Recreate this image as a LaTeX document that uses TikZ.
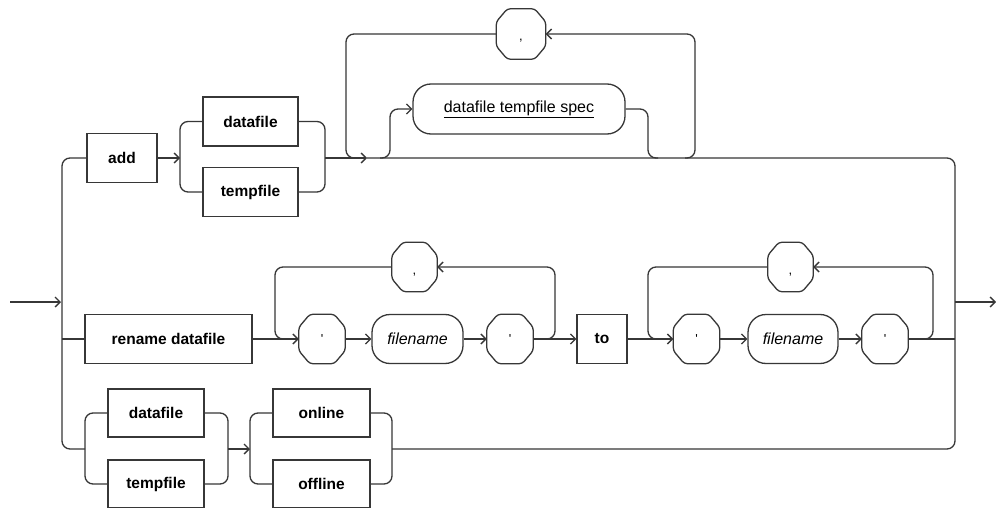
\documentclass[tikz,border=0pt]{standalone}
\usepackage{fontspec}
\setmainfont{Liberation Sans}
\usetikzlibrary{arrows.meta,calc}
\definecolor{ink}{RGB}{55,55,55}
\newcommand{\lowcomma}{\smash{\raisebox{-7pt}{,}}}
\begin{document}
\begin{tikzpicture}[x=1pt,y=-1pt,
  rail/.style={draw=ink,line width=1.3pt,rounded corners=8pt},
  arr/.style={-{Straight Barb[length=5pt,width=10pt,line width=1.3pt]}},
  kw/.style={draw=ink,line width=1.3pt,rectangle,minimum height=49pt,inner sep=0pt,
    font=\fontsize{15.5}{18}\selectfont\bfseries},
  nt/.style={draw=ink,line width=1.3pt,rounded corners=18pt,minimum height=50pt,inner sep=0pt,
    font=\fontsize{16}{18}\selectfont},
  sym/.style={minimum width=46pt,minimum height=49pt,inner sep=0pt,
    font=\fontsize{13}{15}\selectfont},
]
\useasboundingbox (0,0) rectangle (996,508);
\fill[white] (0,0) rectangle (996,508);

% ---- add {datafile|tempfile} [spec] [, ...]
\node[kw,minimum width=70pt] (add) at (122,158) {add};
\node[kw,minimum width=95pt] (dat1) at (250.5,121.5) {datafile};
\node[kw,minimum width=95pt] (tmp1) at (250.5,192) {tempfile};
\node[nt,minimum width=212pt] (spec) at (519,109) {\underline{datafile tempfile spec}};
\node[sym,minimum width=49pt,minimum height=50pt] (c0) at (521,34) {\lowcomma};

% ---- rename datafile 'filename' [, ...] to 'filename' [, ...]
\node[kw,minimum width=167pt] (ren) at (168.5,339) {rename datafile};
\node[sym] (q1) at (322,339) {\textquotesingle};
\node[nt,minimum width=91pt,minimum height=49pt] (fn1) at (417.5,339) {\itshape filename};
\node[sym] (q2) at (510,339) {\textquotesingle};
\node[sym,minimum width=45pt] (c1) at (414.5,267) {\lowcomma};
\node[kw,minimum width=50pt] (to) at (602,339) {to};
\node[sym] (q3) at (696.5,339) {\textquotesingle};
\node[nt,minimum width=90pt,minimum height=49pt] (fn2) at (793,339) {\itshape filename};
\node[sym] (q4) at (885,339) {\textquotesingle};
\node[sym,minimum width=45pt] (c2) at (790.5,267) {\lowcomma};

% ---- {datafile|tempfile} {online|offline}
\node[kw,minimum width=96pt,minimum height=48pt] (dat2) at (156,413) {datafile};
\node[kw,minimum width=96pt,minimum height=48pt] (tmp2) at (156,484) {tempfile};
\node[kw,minimum width=97pt,minimum height=48pt] (onl) at (321.5,413) {online};
\node[kw,minimum width=97pt,minimum height=48pt] (off) at (321.5,484) {offline};

% octagonal terminal symbols
\foreach \n in {c0,c1,c2,q1,q2,q3,q4} {
  \draw[draw=ink,line width=1.3pt,rounded corners=3pt]
    ($(\n.north west)+(11,0)$) -- ($(\n.north east)+(-11,0)$)
    -- ($(\n.north east)+(0,13)$) -- ($(\n.south east)+(0,-13)$)
    -- ($(\n.south east)+(-11,0)$) -- ($(\n.south west)+(11,0)$)
    -- ($(\n.south west)+(0,-13)$) -- ($(\n.north west)+(0,13)$) -- cycle;
}

% entry, exit and the two main verticals
\coordinate (entry) at (10,302);
\coordinate (exit) at (996,302);
\draw[rail,arr] (entry) -- (61,302);
\draw[rail] (add.west) -- (62,158) -- (62,449) -- (85,449);
\draw[rail] (62,339) -- (ren.west);
\draw[rail,arr] (955,302) -- (exit);

% row 1
\draw[rail,arr] (add.east) -- (180,158);
\draw[rail] (dat1.west) -- (180,121.5) -- (180,192) -- (tmp1.west);
\draw[rail] (dat1.east) -- (325,121.5) -- (325,192) -- (tmp1.east);
\draw[rail,arr] (325,158) -- (367,158);
\draw[rail] (367,158) -- (955,158) -- (955,449) -- (392,449);
\draw[rail] (c0.west) -- (346,34) -- (346,158) -- (356,158);
\draw[rail,arr] (685,158) -- (695,158) -- (695,34) -- (c0.east);
\draw[rail,arr] (380,158) -- (390,158) -- (390,109) -- (spec.west);
\draw[rail] (spec.east) -- (648,109) -- (648,158) -- (658,158);

% row 2
\draw[rail,arr] (ren.east) -- (q1.west);
\draw[rail,arr] (q1.east) -- (fn1.west);
\draw[rail,arr] (fn1.east) -- (q2.west);
\draw[rail,arr] (q2.east) -- (to.west);
\draw[rail] (c1.west) -- (275,267) -- (275,339) -- (285,339);
\draw[rail,arr] (545,339) -- (555,339) -- (555,267) -- (c1.east);
\draw[rail,arr] (to.east) -- (q3.west);
\draw[rail,arr] (q3.east) -- (fn2.west);
\draw[rail,arr] (fn2.east) -- (q4.west);
\draw[rail] (q4.east) -- (955,339);
\draw[rail] (c2.west) -- (648,267) -- (648,339) -- (658,339);
\draw[rail,arr] (923,339) -- (933,339) -- (933,267) -- (c2.east);

% row 3
\draw[rail] (dat2.west) -- (85,413) -- (85,484) -- (tmp2.west);
\draw[rail] (dat2.east) -- (228,413) -- (228,484) -- (tmp2.east);
\draw[rail,arr] (228,449) -- (250,449);
\draw[rail] (onl.west) -- (250,413) -- (250,484) -- (off.west);
\draw[rail] (onl.east) -- (392,413) -- (392,484) -- (off.east);
\end{tikzpicture}
\end{document}
